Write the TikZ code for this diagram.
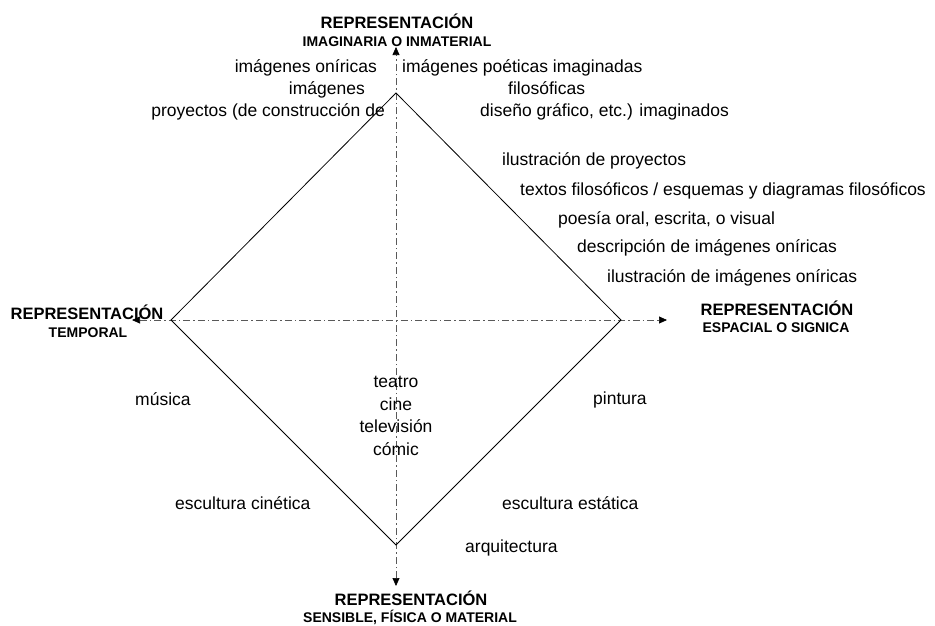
\documentclass[tikz,border=0pt]{standalone}
\usepackage{fontspec}
\setmainfont{Liberation Sans}
\usetikzlibrary{arrows.meta}
\begin{document}
\begin{tikzpicture}[x=1pt,y=-1pt,
  lbl/.style={font=\fontsize{17.5}{20}\selectfont, inner sep=0pt},
  ttl/.style={font=\bfseries\fontsize{16.5}{19}\selectfont, inner sep=0pt},
  sub/.style={font=\bfseries\fontsize{14}{16}\selectfont, inner sep=0pt},
  axis/.style={draw=black!65, line width=0.7pt,
    dash pattern=on 7pt off 3pt on 1.5pt off 3pt, {Triangle[length=8pt,width=7pt,color=black]}-{Triangle[length=8pt,width=7pt,color=black]}},
  edge/.style={draw=black, line width=0.8pt, line join=miter}]
\useasboundingbox (0,0) rectangle (935,625);

% corners of the square and ends of the two axes
\coordinate (top) at (396,93);
\coordinate (bot) at (396,545);
\coordinate (lft) at (171,320);
\coordinate (rgt) at (621,320);
\coordinate (axT) at (396,47);
\coordinate (axB) at (396,586);
\coordinate (axL) at (132,320);
\coordinate (axR) at (667,320);

% axes
\draw[axis] (axB) -- (axT);
\draw[axis] (axL) -- (axR);

% square
\draw[edge] (top) -- (rgt) -- (bot) -- (lft) -- cycle;

% axis titles
\node[ttl] (tT1) at (397,21.5) {REPRESENTACIÓN};
\node[sub] (tT2) at (397,41.5) {IMAGINARIA O INMATERIAL};
\node[ttl] (tL1) at (87,312.5) {REPRESENTACIÓN};
\node[sub] (tL2) at (88,332.5) {TEMPORAL};
\node[ttl] (tR1) at (777,308.5) {REPRESENTACIÓN};
\node[sub] (tR2) at (776,327.5) {ESPACIAL O SIGNICA};
\node[ttl] (tB1) at (411,598) {REPRESENTACIÓN};
\node[sub] (tB2) at (410,617) {SENSIBLE, FÍSICA O MATERIAL};

% upper left
\node[lbl, anchor=mid east] (ul1) at (377,70) {imágenes oníricas};
\node[lbl, anchor=mid east] (ul2) at (365,92) {imágenes};
\node[lbl, anchor=mid east] (ul3) at (385,114) {proyectos (de construcción de};

% upper right
\node[lbl, anchor=mid west] (ur1) at (402,70) {imágenes poéticas imaginadas};
\node[lbl, anchor=mid west] (ur2) at (508,92) {filosóficas};
\node[lbl, anchor=mid west] (ur3) at (480,114) {diseño gráfico, etc.) imaginados};

\node[lbl, anchor=mid west] (r1) at (502,163) {ilustración de proyectos};
\node[lbl, anchor=mid west] (r2) at (520,193) {textos filosóficos / esquemas y diagramas filosóficos};
\node[lbl, anchor=mid west] (r3) at (558,222) {poesía oral, escrita, o visual};
\node[lbl, anchor=mid west] (r4) at (577,250) {descripción de imágenes oníricas};
\node[lbl, anchor=mid west] (r5) at (607,280) {ilustración de imágenes oníricas};

% lower half
\node[lbl, anchor=mid west] (l1) at (135,403) {música};
\node[lbl, anchor=mid west] (l2) at (175,507) {escultura cinética};
\node[lbl, anchor=mid west] (lr1) at (593,402) {pintura};
\node[lbl, anchor=mid west] (lr2) at (502,507) {escultura estática};
\node[lbl, anchor=mid west] (lr3) at (465,550) {arquitectura};

\node[lbl, anchor=mid] (c1) at (396,385) {teatro};
\node[lbl, anchor=mid] (c2) at (396,408) {cine};
\node[lbl, anchor=mid] (c3) at (396,430) {televisión};
\node[lbl, anchor=mid] (c4) at (396,453) {cómic};
\end{tikzpicture}
\end{document}
